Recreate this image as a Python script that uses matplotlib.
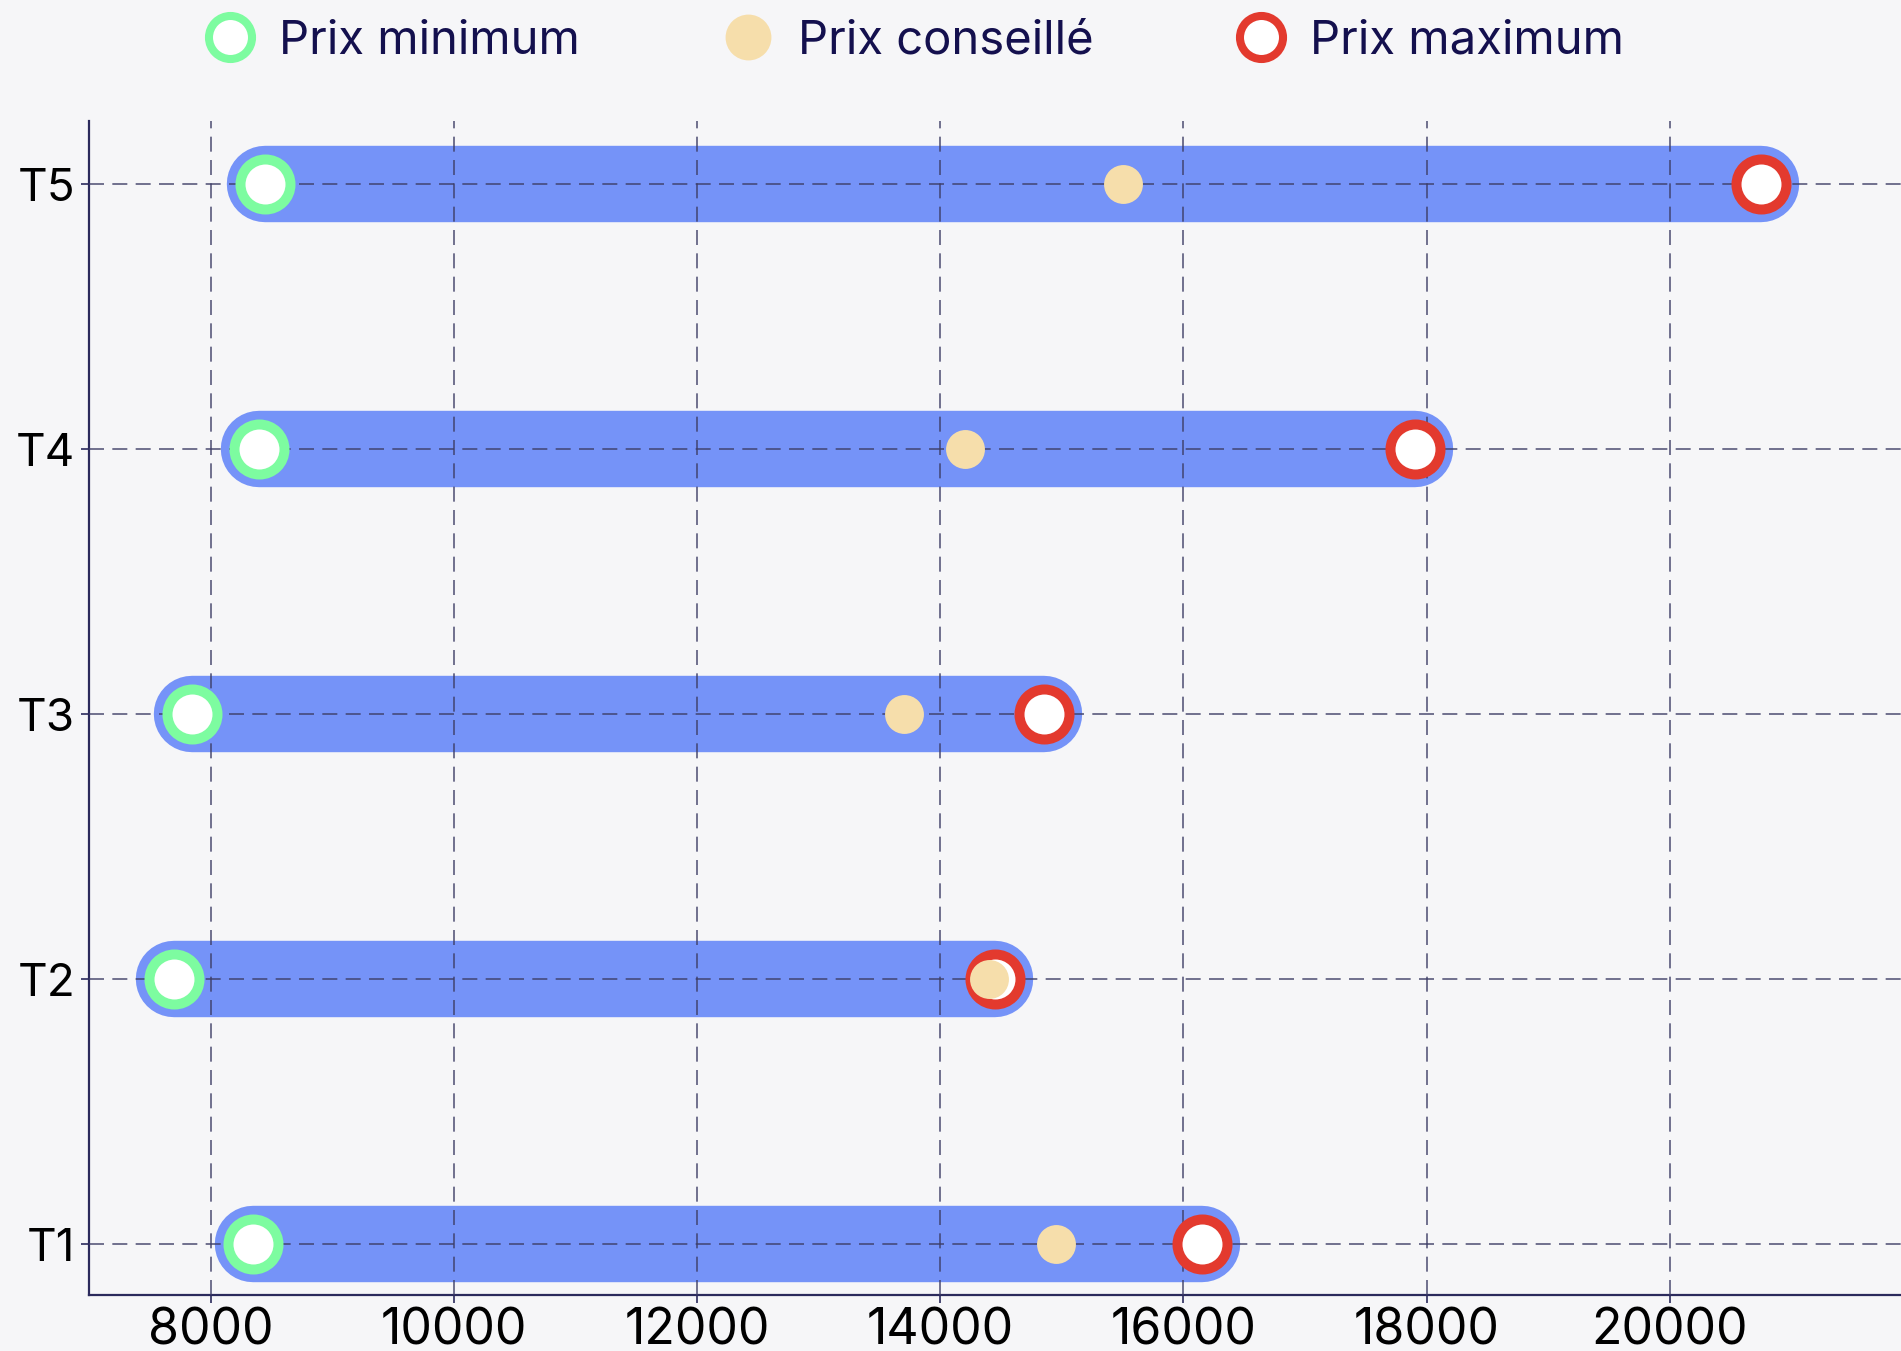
import matplotlib
matplotlib.use("Agg")
import matplotlib.pyplot as plt
from matplotlib.lines import Line2D

plt.rcParams['font.family'] = ['Inter', 'DejaVu Sans']

categories = ["T1", "T2", "T3", "T4", "T5"]
prix_min = [8350, 7700, 7850, 8400, 8450]
prix_conseille = [14950, 14400, 13700, 14200, 15500]
prix_max = [16150, 14450, 14850, 17900, 20750]
x_ticks = [8000, 10000, 12000, 14000, 16000, 18000, 20000]

BG = '#f6f6f8'
BAR = '#7593f8'
GREEN = '#7dfca0'
RED = '#e33a2e'
BEIGE = '#f6deab'
NAVY = '#14104e'

fig = plt.figure(figsize=(19.01, 13.51), dpi=100, facecolor=BG)
ax = fig.add_axes([0.0468, 0.0414, 0.9532, 0.8690])
ax.set_facecolor(BG)

ypos = list(range(len(categories)))

for y, lo, hi in zip(ypos, prix_min, prix_max):
    ax.plot([lo, hi], [y, y], color=BAR, lw=55, solid_capstyle='round', zorder=1)

ax.plot(prix_min, ypos, ls='none', marker='o', ms=36, mew=7.2,
        mfc='white', mec=GREEN, zorder=3)
ax.plot(prix_max, ypos, ls='none', marker='o', ms=36, mew=7.2,
        mfc='white', mec=RED, zorder=3)
ax.plot(prix_conseille, ypos, ls='none', marker='o', ms=28, mew=0,
        mfc=BEIGE, zorder=4)

ax.set_xlim(7000, 21900)
ax.set_ylim(-0.192, 4.238)
ax.set_xticks(x_ticks)
ax.set_xticklabels([str(v) for v in x_ticks])
ax.set_yticks(ypos)
ax.set_yticklabels(categories)

ax.grid(True, color='#3d3d66', lw=1.2, linestyle=(0, (9, 5)), alpha=0.85, zorder=2)
ax.set_axisbelow(False)
for gl in ax.get_xgridlines() + ax.get_ygridlines():
    gl.set_zorder(2)

for s in ['top', 'right']:
    ax.spines[s].set_visible(False)
for s in ['left', 'bottom']:
    ax.spines[s].set_color('#2b2a5c')
    ax.spines[s].set_linewidth(1.6)

ax.tick_params(axis='both', colors='#2b2a5c', length=6, width=1.2,
               labelcolor='black')
ax.tick_params(axis='x', pad=3, labelsize=36)
ax.tick_params(axis='y', pad=4, labelsize=33)

handles = [
    Line2D([], [], ls='none', marker='o', ms=31, mew=5.8, mfc='white', mec=GREEN),
    Line2D([], [], ls='none', marker='o', ms=33, mew=0, mfc=BEIGE),
    Line2D([], [], ls='none', marker='o', ms=31, mew=5.8, mfc='white', mec=RED),
]
labels = ["Prix minimum", "Prix conseillé", "Prix maximum"]
leg = fig.legend(handles, labels, loc='center', bbox_to_anchor=(0.4815, 0.969),
                 ncol=3, frameon=False, fontsize=34, handlelength=1.0,
                 handletextpad=0.55, columnspacing=3.05)
for t in leg.get_texts():
    t.set_color(NAVY)

fig.savefig('out.png', dpi=100, facecolor=BG)
